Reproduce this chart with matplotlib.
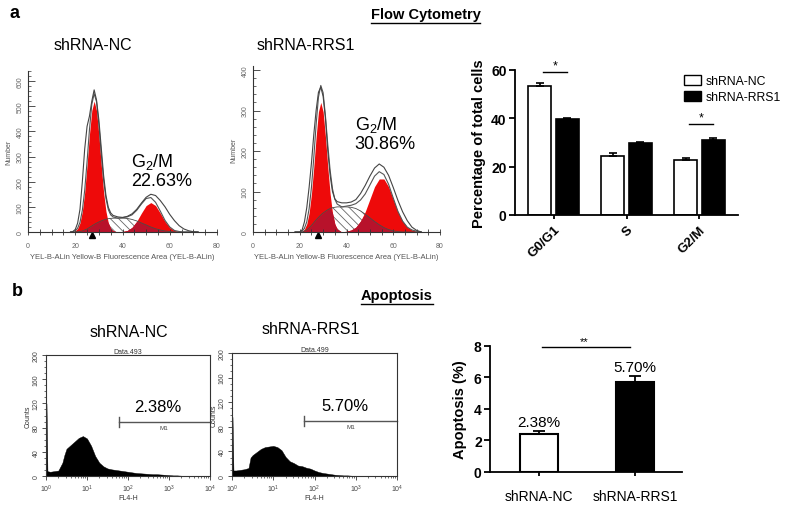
import numpy as np
import matplotlib
matplotlib.use("Agg")
import matplotlib.pyplot as plt
from matplotlib.patches import Patch
from matplotlib.lines import Line2D
from matplotlib.ticker import MultipleLocator, LogFormatterMathtext, LogLocator, NullFormatter
from matplotlib.transforms import offset_copy

plt.rcParams['font.family'] = ['Liberation Sans', 'DejaVu Sans']
plt.rcParams['mathtext.fontset'] = 'custom'
plt.rcParams['mathtext.rm'] = 'Liberation Sans'
plt.rcParams['mathtext.it'] = 'Liberation Sans:italic'
plt.rcParams['mathtext.bf'] = 'Liberation Sans:bold'
plt.rcParams['mathtext.default'] = 'regular'
plt.rcParams['hatch.color'] = '#555555'
plt.rcParams['hatch.linewidth'] = 0.6

W, H = 785, 506

# ---- cell cycle histograms (fluorescence channel vs number) ----
cc_x = [18, 19, 20, 21, 22, 23, 24, 25, 26, 27, 28, 29, 30, 31, 32, 33, 34, 35, 36,
        38, 40, 42, 44, 46, 48, 50, 52, 54, 56, 58, 60, 62, 64, 66, 68, 70, 72]

nc_g1 = [0, 1, 5, 14, 36, 82, 158, 267, 387, 483, 520, 483, 387, 267, 158, 82, 36, 14, 5,
         0, 0, 0, 0, 0, 0, 0, 0, 0, 0, 0, 0, 0, 0, 0, 0, 0, 0]
nc_s = [0, 0, 0, 1, 2, 4, 8, 12, 18, 24, 30, 35, 40, 44, 48, 51, 53, 54, 55,
        55, 55, 54, 50, 44, 36, 28, 20, 13, 8, 4, 2, 0, 0, 0, 0, 0, 0]
nc_g2 = [0, 0, 0, 0, 0, 0, 0, 0, 0, 0, 0, 0, 0, 0, 0, 0, 0, 0, 0,
         0, 2, 6, 18, 42, 75, 105, 117, 105, 75, 42, 18, 6, 2, 0, 0, 0, 0]
nc_raw = [0, 2, 10, 35, 90, 200, 330, 420, 460, 520, 565, 525, 445, 335, 225, 145, 98, 76, 66,
          60, 58, 62, 72, 90, 115, 138, 150, 145, 125, 100, 70, 45, 25, 12, 5, 1, 0]

rrs1_g1 = [0, 0, 0, 2, 7, 20, 47, 94, 160, 235, 297, 320, 297, 235, 160, 94, 47, 20, 7,
           0, 0, 0, 0, 0, 0, 0, 0, 0, 0, 0, 0, 0, 0, 0, 0, 0, 0]
rrs1_s = [0, 0, 0, 0, 2, 5, 10, 16, 23, 30, 36, 42, 47, 51, 55, 58, 60, 61, 62,
          62, 62, 61, 58, 52, 44, 35, 26, 18, 11, 6, 3, 1, 0, 0, 0, 0, 0]
rrs1_g2 = [0, 0, 0, 0, 0, 0, 0, 0, 0, 0, 0, 0, 0, 0, 0, 0, 0, 0, 0,
           0, 2, 5, 12, 27, 50, 81, 112, 131, 131, 112, 81, 50, 27, 12, 5, 2, 0]
rrs1_raw = [0, 0, 0, 5, 25, 60, 110, 170, 240, 300, 345, 358, 335, 280, 200, 140, 100, 82, 75,
            72, 72, 74, 80, 95, 115, 138, 158, 168, 160, 140, 110, 78, 50, 28, 12, 4, 0]

cc_marker = [27, 28]
g2m_pct = ['22.63%', '30.86%']
g2m_text_y = [322, 291]
cc_titles = ['shRNA-NC', 'shRNA-RRS1']

# ---- cell cycle bar chart ----
phases = ['G0/G1', 'S', 'G2/M']
pct_nc = [53.1, 24.5, 22.8]
err_nc = [1.3, 1.0, 0.9]
pct_rrs1 = [39.7, 29.7, 31.0]
err_rrs1 = [0.2, 0.6, 0.6]
sig_phase = [0, 2]
sig_y = [58.9, 37.6]

# ---- apoptosis histograms (FL4-H) ----
apo_logx = [0.0, 0.012, 0.035, 0.1, 0.2, 0.3, 0.4, 0.45, 0.5, 0.6, 0.7, 0.8, 0.9, 1.0, 1.1, 1.2,
            1.3, 1.4, 1.5, 1.6, 1.7, 1.8, 1.9, 2.0, 2.1, 2.2, 2.3, 2.4, 2.5, 2.6, 2.7,
            2.8, 2.9, 3.0, 3.1, 3.2, 3.3, 3.4]
apo_nc = [120, 120, 8, 7, 8, 9, 22, 35, 45, 51, 57, 63, 66, 62, 50, 33, 22, 16, 12.5, 11, 10,
          9, 8, 7, 6, 5, 4.5, 4, 3.5, 3, 3, 2.5, 2, 1.5, 1, 1, 0.5, 0]
apo_rrs1 = [96, 96, 9, 9, 10, 11, 13, 30, 34, 39, 44, 47, 48, 49, 47, 42, 31, 24, 21, 17, 16,
            13.5, 12, 9, 6.5, 5, 4, 3, 2, 1.5, 1, 1, 0.5, 0.5, 0, 0, 0, 0]
gate_start = [59, 56]
gate_y = 89
apo_labels = ['2.38%', '5.70%']
apo_data = ['Data.493', 'Data.499']

# ---- apoptosis bar chart ----
apo_groups = ['shRNA-NC', 'shRNA-RRS1']
apo_pct = [2.38, 5.70]
apo_err = [0.2, 0.35]


def px_axes(fig, l, t, r, b):
    return fig.add_axes([l / W, 1 - b / H, (r - l) / W, (b - t) / H])


def ftext(fig, x, y, s, **kw):
    return fig.text(x / W, 1 - y / H, s, **kw)


def underline(fig, txt, gap=2):
    fig.canvas.draw()
    bb = txt.get_window_extent()
    y = bb.y0 - gap
    fig.add_artist(Line2D([bb.x0 / W, bb.x1 / W], [y / H, y / H], color='black', lw=1.0))


def cell_cycle_hist(fig, rect, ymax, g1, s, g2, raw, marker, pct, ty):
    ax = px_axes(fig, *rect)
    x = np.array(cc_x, float)
    g1 = np.array(g1, float)
    s = np.array(s, float)
    g2 = np.array(g2, float)
    raw = np.array(raw, float)
    ax.fill_between(x, 0, s, facecolor='white', hatch='\\\\\\\\', edgecolor='#666666', lw=0)
    ax.fill_between(x, 0, g1, color='#ee0a0a', lw=0)
    ax.fill_between(x, 0, g2, color='#ee0a0a', lw=0)
    ax.fill_between(x, 0, np.minimum(s, g1 + g2), color='#b8122b', lw=0)
    ax.plot(x, s, color='#4a4a4a', lw=0.6)
    ax.plot(x, g1 + s + g2, color='#555555', lw=0.8)
    ax.plot(x, raw, color='#444444', lw=0.8)
    tr = offset_copy(ax.transData, fig=fig, y=-3, units='dots')
    ax.plot([marker], [0], marker='^', color='black', ms=5, transform=tr, clip_on=False)
    ax.text(43.5, ty, 'G$_2$/M\n' + pct, ha='left', va='top', fontsize=13, linespacing=1.05)
    ax.set_xlim(0, 80)
    ax.set_ylim(0, ymax)
    for sp in ['top', 'right']:
        ax.spines[sp].set_visible(False)
    for sp in ['left', 'bottom']:
        ax.spines[sp].set_color('#333333')
        ax.spines[sp].set_linewidth(0.8)
    ax.set_xticks([0, 20, 40, 60, 80])
    ax.xaxis.set_minor_locator(MultipleLocator(5))
    ax.yaxis.set_major_locator(MultipleLocator(100))
    ax.yaxis.set_minor_locator(MultipleLocator(20))
    ax.tick_params(axis='x', which='both', direction='inout', length=4, width=0.6,
                   colors='#333333', labelsize=5, labelcolor='#666666', pad=5)
    ax.tick_params(axis='y', which='major', direction='in', length=5, width=0.6,
                   colors='#333333', labelsize=5, labelcolor='#666666', pad=3)
    ax.tick_params(axis='y', which='minor', direction='in', length=2.5, width=0.5, colors='#333333')
    for lab in ax.get_yticklabels():
        lab.set_rotation(90)
        lab.set_va('center')
    ax.set_xlabel('YEL-B-ALin Yellow-B Fluorescence Area (YEL-B-ALin)', fontsize=5.5,
                  color='#555555', labelpad=3)
    ax.set_ylabel('Number', fontsize=5, color='#555555', labelpad=3)
    return ax


def apo_hist(fig, rect, counts, gate, label, title):
    ax = px_axes(fig, *rect)
    xs = 10 ** np.array(apo_logx)
    ax.fill_between(xs, 0, counts, color='black', lw=0.3, edgecolor='black')
    ax.set_xscale('log')
    ax.set_xlim(1, 1e4)
    ax.set_ylim(0, 200)
    ax.plot([gate, 1e4], [gate_y, gate_y], color='#555555', lw=1.0, clip_on=False)
    ax.plot([gate, gate], [gate_y - 8, gate_y + 8], color='#555555', lw=1.0)
    ax.text(10 ** ((np.log10(gate) + 4) / 2), gate_y - 4, 'M1', fontsize=4.5,
            ha='center', va='top', color='#444444')
    ax.text(10 ** 2.73, 115, label, fontsize=12, ha='center', va='center')
    for sp in ax.spines.values():
        sp.set_color('#333333')
        sp.set_linewidth(0.8)
    ax.set_yticks([0, 40, 80, 120, 160, 200])
    ax.yaxis.set_minor_locator(MultipleLocator(10))
    ax.xaxis.set_major_locator(LogLocator(base=10, numticks=10))
    ax.xaxis.set_major_formatter(LogFormatterMathtext())
    ax.xaxis.set_minor_locator(LogLocator(base=10, subs=np.arange(2, 10), numticks=50))
    ax.xaxis.set_minor_formatter(NullFormatter())
    ax.tick_params(axis='both', which='major', direction='out', length=3, width=0.6,
                   colors='#333333', labelsize=5, labelcolor='#444444', pad=1.5)
    ax.tick_params(axis='both', which='minor', direction='out', length=1.5, width=0.5,
                   colors='#333333')
    for lab in ax.get_yticklabels():
        lab.set_rotation(90)
        lab.set_va('center')
    ax.set_title(title, fontsize=5, pad=1.5, color='#333333')
    ax.set_xlabel('FL4-H', fontsize=5, labelpad=0.5, color='#333333')
    ax.set_ylabel('Counts', fontsize=5, labelpad=1, color='#333333')
    return ax


def prism_style(ax):
    for sp in ['top', 'right']:
        ax.spines[sp].set_visible(False)
    for sp in ['left', 'bottom']:
        ax.spines[sp].set_linewidth(1.3)
    ax.tick_params(axis='y', direction='out', length=4, width=1.3, labelsize=10, pad=2)
    ax.tick_params(axis='x', direction='out', length=3, width=1.3, pad=3)
    for lab in ax.get_yticklabels():
        lab.set_fontweight('bold')


fig = plt.figure(figsize=(W / 100, H / 100), dpi=100)

# panel a
ftext(fig, 9, 14, 'a', fontsize=13, fontweight='bold', va='center', ha='left')
t = ftext(fig, 425.5, 15, 'Flow Cytometry', fontsize=10.5, fontweight='bold', ha='center', va='center')
underline(fig, t)
ftext(fig, 93, 46, cc_titles[0], fontsize=11.5, ha='center', va='center')
ftext(fig, 306, 46, cc_titles[1], fontsize=11.5, ha='center', va='center')

cell_cycle_hist(fig, (28, 72, 217, 233), 640, nc_g1, nc_s, nc_g2, nc_raw,
                cc_marker[0], g2m_pct[0], g2m_text_y[0])
cell_cycle_hist(fig, (253, 67, 440, 233), 410, rrs1_g1, rrs1_s, rrs1_g2, rrs1_raw,
                cc_marker[1], g2m_pct[1], g2m_text_y[1])

axa = px_axes(fig, 515, 70.7, 738, 216)
xg = np.arange(len(phases))
off, bw = 0.19, 0.31
axa.bar(xg - off, pct_nc, bw, color='white', edgecolor='black', lw=1.2,
        yerr=[np.zeros(3), err_nc], capsize=3, error_kw=dict(lw=1.2, capthick=1.2))
axa.bar(xg + off, pct_rrs1, bw, color='black', edgecolor='black', lw=1.2,
        yerr=[np.zeros(3), err_rrs1], capsize=3, error_kw=dict(lw=1.2, capthick=1.2))
for p, y in zip(sig_phase, sig_y):
    axa.plot([p - 0.14, p + 0.19], [y, y], color='black', lw=1.0, clip_on=False)
    axa.text(p + 0.025, y + 0.3, '*', ha='center', va='bottom', fontsize=9)
axa.set_xlim(-0.53, 2.53)
axa.set_ylim(0, 60)
axa.set_yticks([0, 20, 40, 60])
axa.set_xticks(xg)
axa.set_xticklabels(phases, rotation=45, ha='right', va='top', rotation_mode='anchor',
                    fontsize=9.5, fontweight='bold')
prism_style(axa)
axa.set_ylabel('Percentage of total cells', fontsize=10.5, fontweight='bold', labelpad=4)
axa.legend(handles=[Patch(facecolor='white', edgecolor='black', lw=1.0, label='shRNA-NC'),
                    Patch(facecolor='black', edgecolor='black', lw=1.0, label='shRNA-RRS1')],
           loc='upper left', bbox_to_anchor=(684 / W, 1 - 76 / H), bbox_transform=fig.transFigure,
           frameon=False, fontsize=8.8, handlelength=1.4, handleheight=0.9, handletextpad=0.4,
           labelspacing=0.3, borderaxespad=0, borderpad=0)

# panel b
ftext(fig, 12, 291, 'b', fontsize=13, fontweight='bold', va='center', ha='left')
t = ftext(fig, 397, 296, 'Apoptosis', fontsize=10.5, fontweight='bold', ha='center', va='center')
underline(fig, t)
ftext(fig, 129, 333, apo_groups[0], fontsize=11.5, ha='center', va='center')
ftext(fig, 311, 329, apo_groups[1], fontsize=11.5, ha='center', va='center')

apo_hist(fig, (46, 356, 210, 477), apo_nc, gate_start[0], apo_labels[0], apo_data[0])
apo_hist(fig, (232, 354, 397, 477), apo_rrs1, gate_start[1], apo_labels[1], apo_data[1])

axb = px_axes(fig, 490, 346.7, 682, 473)
xb = np.arange(len(apo_groups))
axb.bar(xb, apo_pct, 0.4, color=['white', 'black'], edgecolor='black', lw=1.5,
        yerr=[np.zeros(2), apo_err], capsize=4, error_kw=dict(lw=1.3, capthick=1.3))
for i, v in enumerate(apo_pct):
    axb.text(xb[i], v + apo_err[i] + 0.15, '%.2f%%' % v, ha='center', va='bottom', fontsize=11)
axb.plot([0.03, 0.95], [7.94, 7.94], color='black', lw=1.0, clip_on=False)
axb.text(0.47, 7.98, '**', ha='center', va='bottom', fontsize=8)
axb.set_xlim(-0.51, 1.49)
axb.set_ylim(0, 8)
axb.set_yticks([0, 2, 4, 6, 8])
axb.set_xticks(xb)
axb.set_xticklabels(apo_groups, fontsize=10)
prism_style(axb)
axb.tick_params(axis='x', pad=9)
axb.set_ylabel('Apoptosis (%)', fontsize=10.5, fontweight='bold', labelpad=5)

fig.savefig('out.png', dpi=100)
